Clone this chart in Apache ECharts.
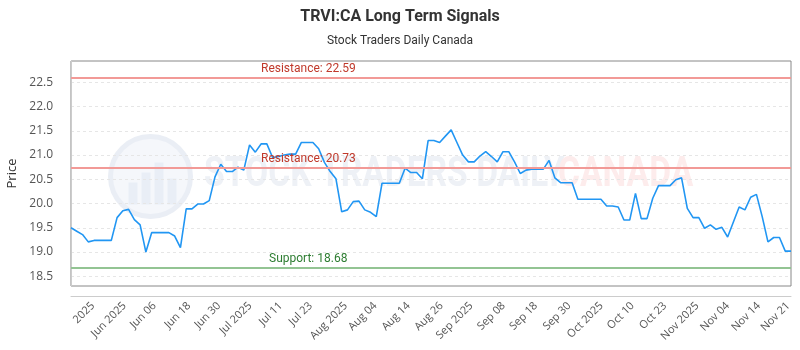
<!DOCTYPE html>
<html>
<head>
    <meta charset="utf-8">
    <title>TRVI:CA Long Term Signals</title>
    <script src="https://cdn.jsdelivr.net/npm/echarts@6/dist/echarts.min.js"></script>
    <style>
        body { margin: 0; background: #fff; }
        #main { width: 800px; height: 350px; }
    </style>
</head>
<body>
<div id="main"></div>
<script>
    // daily closes, one per trading day (index 0 .. 125)
    var prices = [
        19.50, 19.43, 19.36, 19.21, 19.24, 19.24, 19.24, 19.24, 19.71, 19.85,
        19.88, 19.67, 19.56, 19.00, 19.40, 19.40, 19.40, 19.40, 19.33, 19.09,
        19.89, 19.89, 19.99, 19.99, 20.06, 20.55, 20.81, 20.66, 20.66, 20.75,
        20.69, 21.21, 21.06, 21.23, 21.23, 20.95, 20.97, 21.00, 21.02, 21.02,
        21.26, 21.26, 21.26, 21.13, 20.85, 20.66, 20.51, 19.83, 19.87, 20.04,
        20.05, 19.87, 19.82, 19.73, 20.42, 20.42, 20.42, 20.42, 20.73, 20.64,
        20.64, 20.51, 21.30, 21.30, 21.26, 21.39, 21.52, 21.26, 21.00, 20.86,
        20.86, 20.98, 21.07, 20.97, 20.86, 21.07, 21.07, 20.86, 20.62, 20.69,
        20.71, 20.71, 20.71, 20.89, 20.53, 20.43, 20.43, 20.43, 20.09, 20.09,
        20.09, 20.09, 20.09, 19.95, 19.95, 19.93, 19.66, 19.66, 20.21, 19.69,
        19.69, 20.11, 20.37, 20.37, 20.37, 20.49, 20.53, 19.90, 19.71, 19.71,
        19.49, 19.56, 19.47, 19.51, 19.31, 19.62, 19.93, 19.87, 20.13, 20.19,
        19.73, 19.21, 19.30, 19.30, 19.02, 19.02
    ];

    // x tick labels and where they sit (in trading-day index units)
    var tickLabels = ['2025', 'Jun 2025', 'Jun 06', 'Jun 18', 'Jun 30', 'Jul 2025', 'Jul 11', 'Jul 23',
        'Aug 2025', 'Aug 04', 'Aug 14', 'Aug 26', 'Sep 2025', 'Sep 08', 'Sep 18', 'Sep 30',
        'Oct 2025', 'Oct 10', 'Oct 23', 'Nov 2025', 'Nov 04', 'Nov 14', 'Nov 21'];
    var tickPos = [3.8, 9.3, 14.5, 20.5, 25.7, 31.1, 36.4, 41.6, 47.7, 52.8, 58.6, 64.3,
        69.5, 75.1, 80.7, 86.5, 92.1, 97.5, 103.1, 108.7, 114.0, 119.4, 124.5];

    var yTicks = [18.5, 19.0, 19.5, 20.0, 20.5, 21.0, 21.5, 22.0, 22.5];

    // signal levels
    var levelNames = ['Resistance', 'Resistance', 'Support'];
    var levelValues = [22.59, 20.73, 18.68];

    var lineData = prices.map(function (v, i) { return [i, v]; });

    var markData = levelValues.map(function (v, i) {
        var sup = levelNames[i] == 'Support';
        return {
            yAxis: v,
            lineStyle: { color: sup ? '#93c493' : '#f29a97', width: 2, type: 'solid' },
            label: {
                formatter: levelNames[i] + ': ' + v.toFixed(2),
                position: 'insideStartTop',
                distance: [sup ? 198 : 190, 3],
                color: sup ? '#2e7d32' : '#c0392b',
                fontSize: 12,
                fontFamily: 'Roboto'
            }
        };
    });

    var myChart = echarts.init(document.getElementById('main'));
    myChart.setOption({
        animation: false,
        backgroundColor: '#fff',
        title: {
            text: 'TRVI:CA Long Term Signals',
            subtext: 'Stock Traders Daily Canada',
            left: 'center',
            top: 4,
            itemGap: 10,
            textStyle: { fontSize: 16, fontWeight: 'bold', color: '#333', fontFamily: 'Roboto' },
            subtextStyle: { fontSize: 12, color: '#333', fontFamily: 'Roboto' }
        },
        // faint watermark logo
        graphic: [
            {
                type: 'group', left: 108, top: 134, silent: true, z: -1,
                children: [
                    { type: 'circle', shape: { cx: 42, cy: 42, r: 40 },
                      style: { fill: '#f5f7fb', stroke: '#eaeef5', lineWidth: 5 } },
                    { type: 'rect', shape: { x: 20, y: 48, width: 9, height: 22 }, style: { fill: '#e9eef6' } },
                    { type: 'rect', shape: { x: 33, y: 38, width: 9, height: 32 }, style: { fill: '#e9eef6' } },
                    { type: 'rect', shape: { x: 46, y: 28, width: 9, height: 42 }, style: { fill: '#e9eef6' } },
                    { type: 'rect', shape: { x: 59, y: 44, width: 9, height: 26 }, style: { fill: '#e9eef6' } }
                ]
            },
            {
                type: 'text', left: 204, top: 154, silent: true, z: -1, scaleX: 0.8,
                style: { text: 'STOCK TRADERS DAILY', fill: '#eef1f6', font: 'bold 42px Roboto' }
            },
            {
                type: 'text', left: 558, top: 154, silent: true, z: -1, scaleX: 0.8,
                style: { text: 'CANADA', fill: '#fdecec', font: 'bold 42px Roboto' }
            }
        ],
        grid: {
            left: 71, right: 9, top: 61, bottom: 64,
            show: true,
            borderColor: '#888',
            borderWidth: 1,
            backgroundColor: 'transparent',
            outerBoundsMode: 'none'
        },
        xAxis: {
            type: 'value',
            min: 0,
            max: prices.length - 1,
            offset: 10,
            axisLine: { show: true, lineStyle: { color: '#ccc' } },
            axisTick: { show: false },
            splitLine: { show: false },
            axisLabel: {
                customValues: tickPos,
                rotate: 45,
                margin: 8,
                fontSize: 11,
                color: '#555',
                fontFamily: 'Open Sans',
                formatter: function (v) {
                    var k = tickPos.indexOf(v);
                    return k >= 0 ? tickLabels[k] : '';
                }
            }
        },
        yAxis: {
            type: 'value',
            min: 18.3,
            max: 22.94,
            offset: 10,
            name: 'Price',
            nameLocation: 'middle',
            nameRotate: 90,
            nameGap: 36,
            nameTextStyle: { fontSize: 13, color: '#333', fontFamily: 'Open Sans' },
            axisLine: { show: true, lineStyle: { color: '#ccc' } },
            axisTick: { show: false, customValues: yTicks },
            splitLine: { show: true, lineStyle: { color: '#e6e6e6', type: [3, 3] } },
            axisLabel: {
                customValues: yTicks,
                margin: 8,
                fontSize: 12,
                color: '#555',
                fontFamily: 'Open Sans',
                formatter: function (v) { return v.toFixed(1); }
            }
        },
        series: [{
            name: 'Price',
            type: 'line',
            data: lineData,
            showSymbol: false,
            smooth: false,
            lineStyle: { color: '#2196f3', width: 1.6 },
            itemStyle: { color: '#2196f3' },
            markLine: {
                silent: true,
                symbol: 'none',
                data: markData
            }
        }]
    });
</script>
</body>
</html>
